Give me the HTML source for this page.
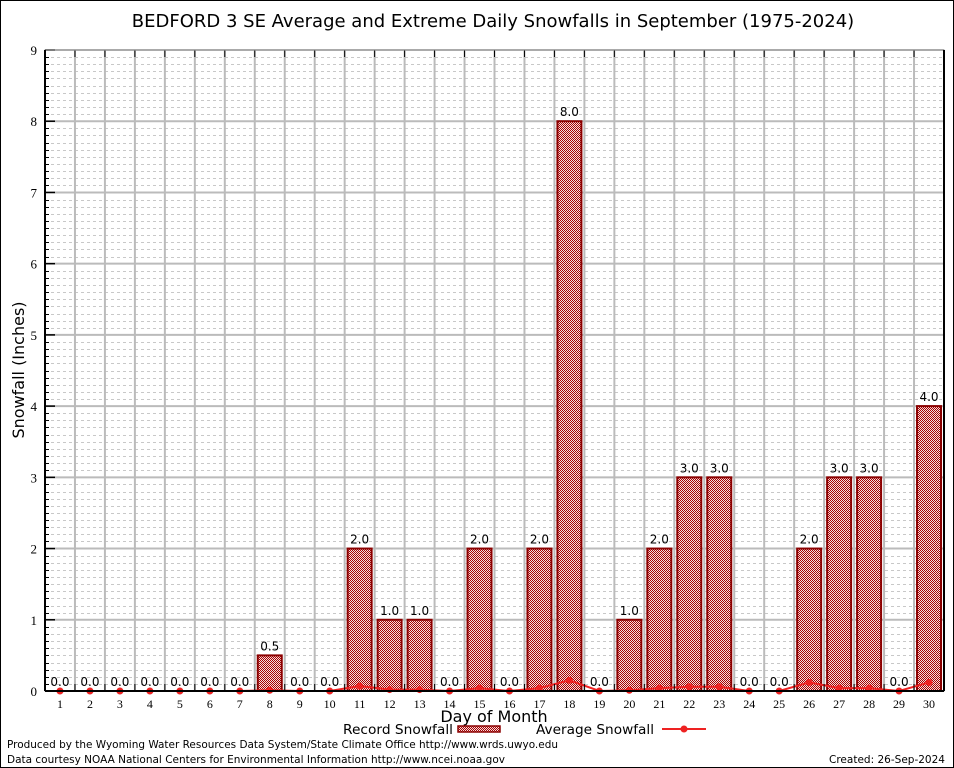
<!DOCTYPE html>
<html><head><meta charset="utf-8"><style>
body{margin:0;background:#fff}
svg{display:block;font-family:"DejaVu Sans","Liberation Sans",sans-serif}
</style></head><body>
<svg id="chart" width="954" height="768" viewBox="0 0 954 768">
<defs>
<pattern id="dither" width="2" height="2" patternUnits="userSpaceOnUse">
<rect width="2" height="2" fill="#f4dede"/>
<rect width="1" height="1" fill="#a80000"/>
<rect x="1" y="1" width="1" height="1" fill="#a80000"/>
</pattern>
</defs>
<rect x="0.5" y="0.5" width="953" height="767" fill="#fff" stroke="#000"/>
<text x="493" y="27" font-size="18" text-anchor="middle">BEDFORD 3 SE Average and Extreme Daily Snowfalls in September (1975-2024)</text>
<g id="grid"></g>
<g id="bars"></g>
<g id="avg"></g>
<g id="axes"></g>
<text x="24" y="370" font-size="16" text-anchor="middle" transform="rotate(-90 24 370)">Snowfall (Inches)</text>
<text x="494" y="722" font-size="16" text-anchor="middle">Day of Month</text>
<g>
<text x="453" y="734" font-size="13" text-anchor="end" textLength="110" lengthAdjust="spacingAndGlyphs">Record Snowfall</text>
<rect x="458" y="726" width="42" height="6" fill="url(#dither)" stroke="#8b0000" stroke-width="1.5"/>
</g>
<g>
<text x="654" y="734" font-size="13" text-anchor="end" textLength="118" lengthAdjust="spacingAndGlyphs">Average Snowfall</text>
<line x1="662" y1="729" x2="706" y2="729" stroke="#ee2222" stroke-width="2"/>
<circle cx="684" cy="729" r="3.5" fill="#ee2222"/>
</g>
<text x="7" y="748" font-size="11" textLength="551" lengthAdjust="spacingAndGlyphs">Produced by the Wyoming Water Resources Data System/State Climate Office http://www.wrds.uwyo.edu</text>
<text x="7" y="763" font-size="11" textLength="498" lengthAdjust="spacingAndGlyphs">Data courtesy NOAA National Centers for Environmental Information http://www.ncei.noaa.gov</text>
<text x="945" y="763" font-size="11" text-anchor="end" textLength="116" lengthAdjust="spacingAndGlyphs">Created: 26-Sep-2024</text>
</svg>
<script>
const days=[1,2,3,4,5,6,7,8,9,10,11,12,13,14,15,16,17,18,19,20,21,22,23,24,25,26,27,28,29,30];
const records=[0,0,0,0,0,0,0,0.5,0,0,2,1,1,0,2,0,2,8,0,1,2,3,3,0,0,2,3,3,0,4];
const averages=[0,0,0,0,0,0,0,0.01,0,0,0.07,0.02,0.02,0,0.04,0,0.04,0.15,0,0.01,0.04,0.06,0.06,0,0,0.12,0.04,0.04,0,0.12];
const yTicks=[0,1,2,3,4,5,6,7,8,9];
const L=45,R=944,T=50,B=691,ymax=9;
const step=(R-L)/days.length;
const xs=d=>L+(d-0.5)*step;
const ys=v=>B-(v/ymax)*(B-T);
const NS="http://www.w3.org/2000/svg";
function mk(tag,attrs,parent,text){const e=document.createElementNS(NS,tag);for(const k in attrs)e.setAttribute(k,attrs[k]);if(text!==undefined)e.textContent=text;parent.appendChild(e);return e;}
const grid=document.getElementById('grid'),bars=document.getElementById('bars'),avg=document.getElementById('avg'),axes=document.getElementById('axes');
for(let i=1;i<ymax*10;i++){if(i%10===0)continue;const y=Math.round(ys(i/10))+0.5;
const l=mk('line',{x1:L,x2:R,y1:y,y2:y,stroke:'#c8c8c8','stroke-width':1,'stroke-dasharray':'3,3'},grid);


mk('line',{x1:L,x2:L+4,y1:y,y2:y,stroke:'#000'},axes);}
yTicks.forEach(v=>{const y=ys(v);
const l=mk('line',{x1:L,x2:R,y1:y,y2:y,stroke:'#bbb','stroke-width':2},grid);


mk('line',{x1:L,x2:L+10,y1:y,y2:y,stroke:'#000','stroke-width':1.5},axes);
const t=mk('text',{x:L-8,y:y+5,'font-size':13,'text-anchor':'end','font-family':'Liberation Serif, serif'},axes,String(v));

});
for(let i=1;i<days.length;i++){const x=L+i*step;
const l=mk('line',{x1:x,x2:x,y1:T,y2:B,stroke:'#bbb','stroke-width':2},grid);


mk('line',{x1:x,x2:x,y1:T,y2:T+7,stroke:'#000'},axes);
mk('line',{x1:x,x2:x,y1:B,y2:B-7,stroke:'#000'},axes);}
days.forEach((d,i)=>{const x=xs(d),v=records[i],y=ys(v);
if(v>0){const r=mk('rect',{x:x-12,y:y,width:24,height:B-y,fill:'url(#dither)',stroke:'#8b0000','stroke-width':2},bars);

}
const t=mk('text',{x:x,y:y-5,'font-size':12,'text-anchor':'middle'},bars,v.toFixed(1));


const dl=mk('text',{x:x,y:B+17,'font-size':12,'text-anchor':'middle','font-family':'Liberation Serif, serif'},axes,String(d));

});
const pl=mk('polyline',{points:days.map((d,i)=>xs(d)+','+ys(averages[i])).join(' '),fill:'none',stroke:'#ee2222','stroke-width':2},avg);


days.forEach((d,i)=>{const c=mk('circle',{cx:xs(d),cy:ys(averages[i]),r:3.5,fill:'#ee2222'},avg);

});
const fr=mk('rect',{x:L,y:T,width:R-L,height:B-T,fill:'none',stroke:'#999','stroke-width':1},axes);


mk('line',{x1:L,x2:R,y1:B,y2:B,stroke:'#000','stroke-width':2},axes);
mk('line',{x1:L,x2:L,y1:T,y2:B,stroke:'#000','stroke-width':2},axes);
mk('line',{x1:R,x2:R,y1:T,y2:B,stroke:'#000','stroke-width':2},axes);
</script>
</body></html>
